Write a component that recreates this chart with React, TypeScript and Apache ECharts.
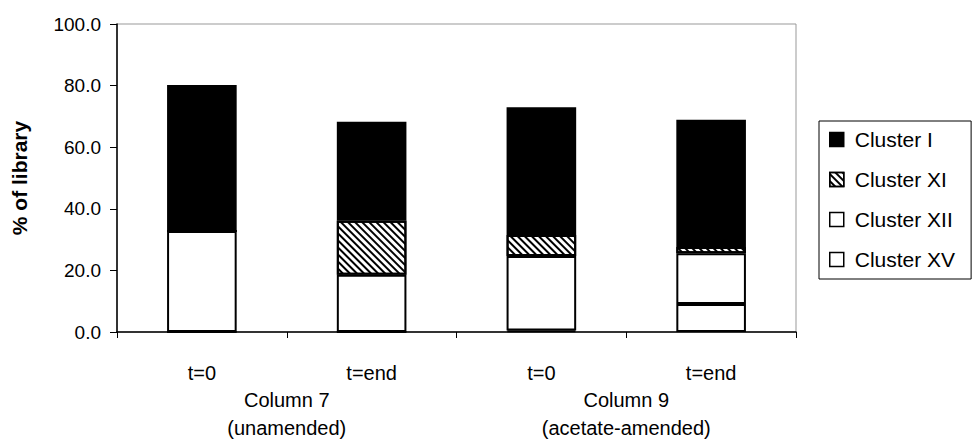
import React, { useEffect, useRef } from "react";
import * as echarts from "echarts";

const categories = ["t=0", "t=end", "t=0", "t=end"];
const groups = ["Column 7\n(unamended)", "Column 9\n(acetate-amended)"];
const yTicks = [0, 20, 40, 60, 80, 100];
const clusterXV = [0, 0, 0.5, 9.1];
const clusterXII = [32.8, 18.6, 24.2, 16.5];
const clusterXI = [0, 17.5, 6.8, 2.0];
const clusterI = [47.4, 32.2, 41.5, 41.3];
const legendOrder = ["Cluster I", "Cluster XI", "Cluster XII", "Cluster XV"];

const FONT = "'Liberation Sans', Arial, sans-serif";

export default function App() {
  const ref = useRef<HTMLDivElement>(null);
  useEffect(() => {
    if (!ref.current) return;
    const chart = echarts.init(ref.current, null, { renderer: "svg" });
    const border = { borderColor: "#000", borderWidth: 2 };
    chart.setOption({
      animation: false,
      backgroundColor: "#fff",
      textStyle: { fontFamily: FONT, color: "#000" },
      grid: {
        left: 117,
        right: 178,
        top: 24,
        bottom: 111,
        show: true,
        borderColor: "#999",
        borderWidth: 1,
        backgroundColor: "transparent",
      },
      legend: {
        orient: "vertical",
        left: 819,
        top: 121,
        data: legendOrder,
        itemWidth: 14,
        itemHeight: 14,
        itemGap: 19,
        padding: [8, 16, 9, 10],
        borderColor: "#000",
        borderWidth: 1,
        icon: "rect",
        itemStyle: { borderWidth: 1.5 },
        textStyle: { fontSize: 21, color: "#000", fontFamily: FONT, padding: [0, 0, 0, 6] },
      },
      xAxis: [
        {
          type: "category",
          data: categories,
          axisLine: { lineStyle: { color: "#000", width: 1.5 } },
          axisTick: { show: true, length: 6, lineStyle: { color: "#000" } },
          axisLabel: { color: "#000", fontSize: 20, margin: 31, fontFamily: FONT },
        },
        {
          type: "category",
          data: groups,
          position: "bottom",
          axisLine: { show: false },
          axisTick: { show: false },
          axisLabel: { color: "#000", fontSize: 20, margin: 54, lineHeight: 28, fontFamily: FONT },
        },
      ],
      yAxis: {
        type: "value",
        min: yTicks[0],
        max: yTicks[yTicks.length - 1],
        interval: 20,
        name: "% of library",
        nameLocation: "middle",
        nameGap: 87,
        nameTextStyle: { fontSize: 21, fontWeight: "bold", color: "#000", fontFamily: FONT },
        axisLine: { show: true, lineStyle: { color: "#000", width: 1.5 } },
        axisTick: { show: true, length: 7, lineStyle: { color: "#000" } },
        splitLine: { show: false },
        axisLabel: {
          color: "#000",
          fontSize: 19,
          margin: 16,
          fontFamily: FONT,
          formatter: (v: number) => v.toFixed(1),
        },
      },
      series: [
        {
          name: "Cluster XV",
          type: "bar",
          stack: "s",
          barWidth: "41%",
          data: clusterXV,
          itemStyle: { color: "#fff", ...border },
        },
        {
          name: "Cluster XII",
          type: "bar",
          stack: "s",
          data: clusterXII,
          itemStyle: { color: "#fff", ...border },
        },
        {
          name: "Cluster XI",
          type: "bar",
          stack: "s",
          data: clusterXI,
          itemStyle: {
            color: "#fff",
            ...border,
            decal: {
              symbol: "rect",
              symbolSize: 1,
              dashArrayX: [1, 0],
              dashArrayY: [2, 2.2],
              rotation: Math.PI / 4,
              color: "#000",
              backgroundColor: "#fff",
            },
          },
        },
        {
          name: "Cluster I",
          type: "bar",
          stack: "s",
          data: clusterI,
          itemStyle: { color: "#000", ...border },
        },
      ],
    });
    return () => chart.dispose();
  }, []);
  return <div ref={ref} style={{ width: 974, height: 443, position: "absolute", left: 0, top: 0 }} />;
}
